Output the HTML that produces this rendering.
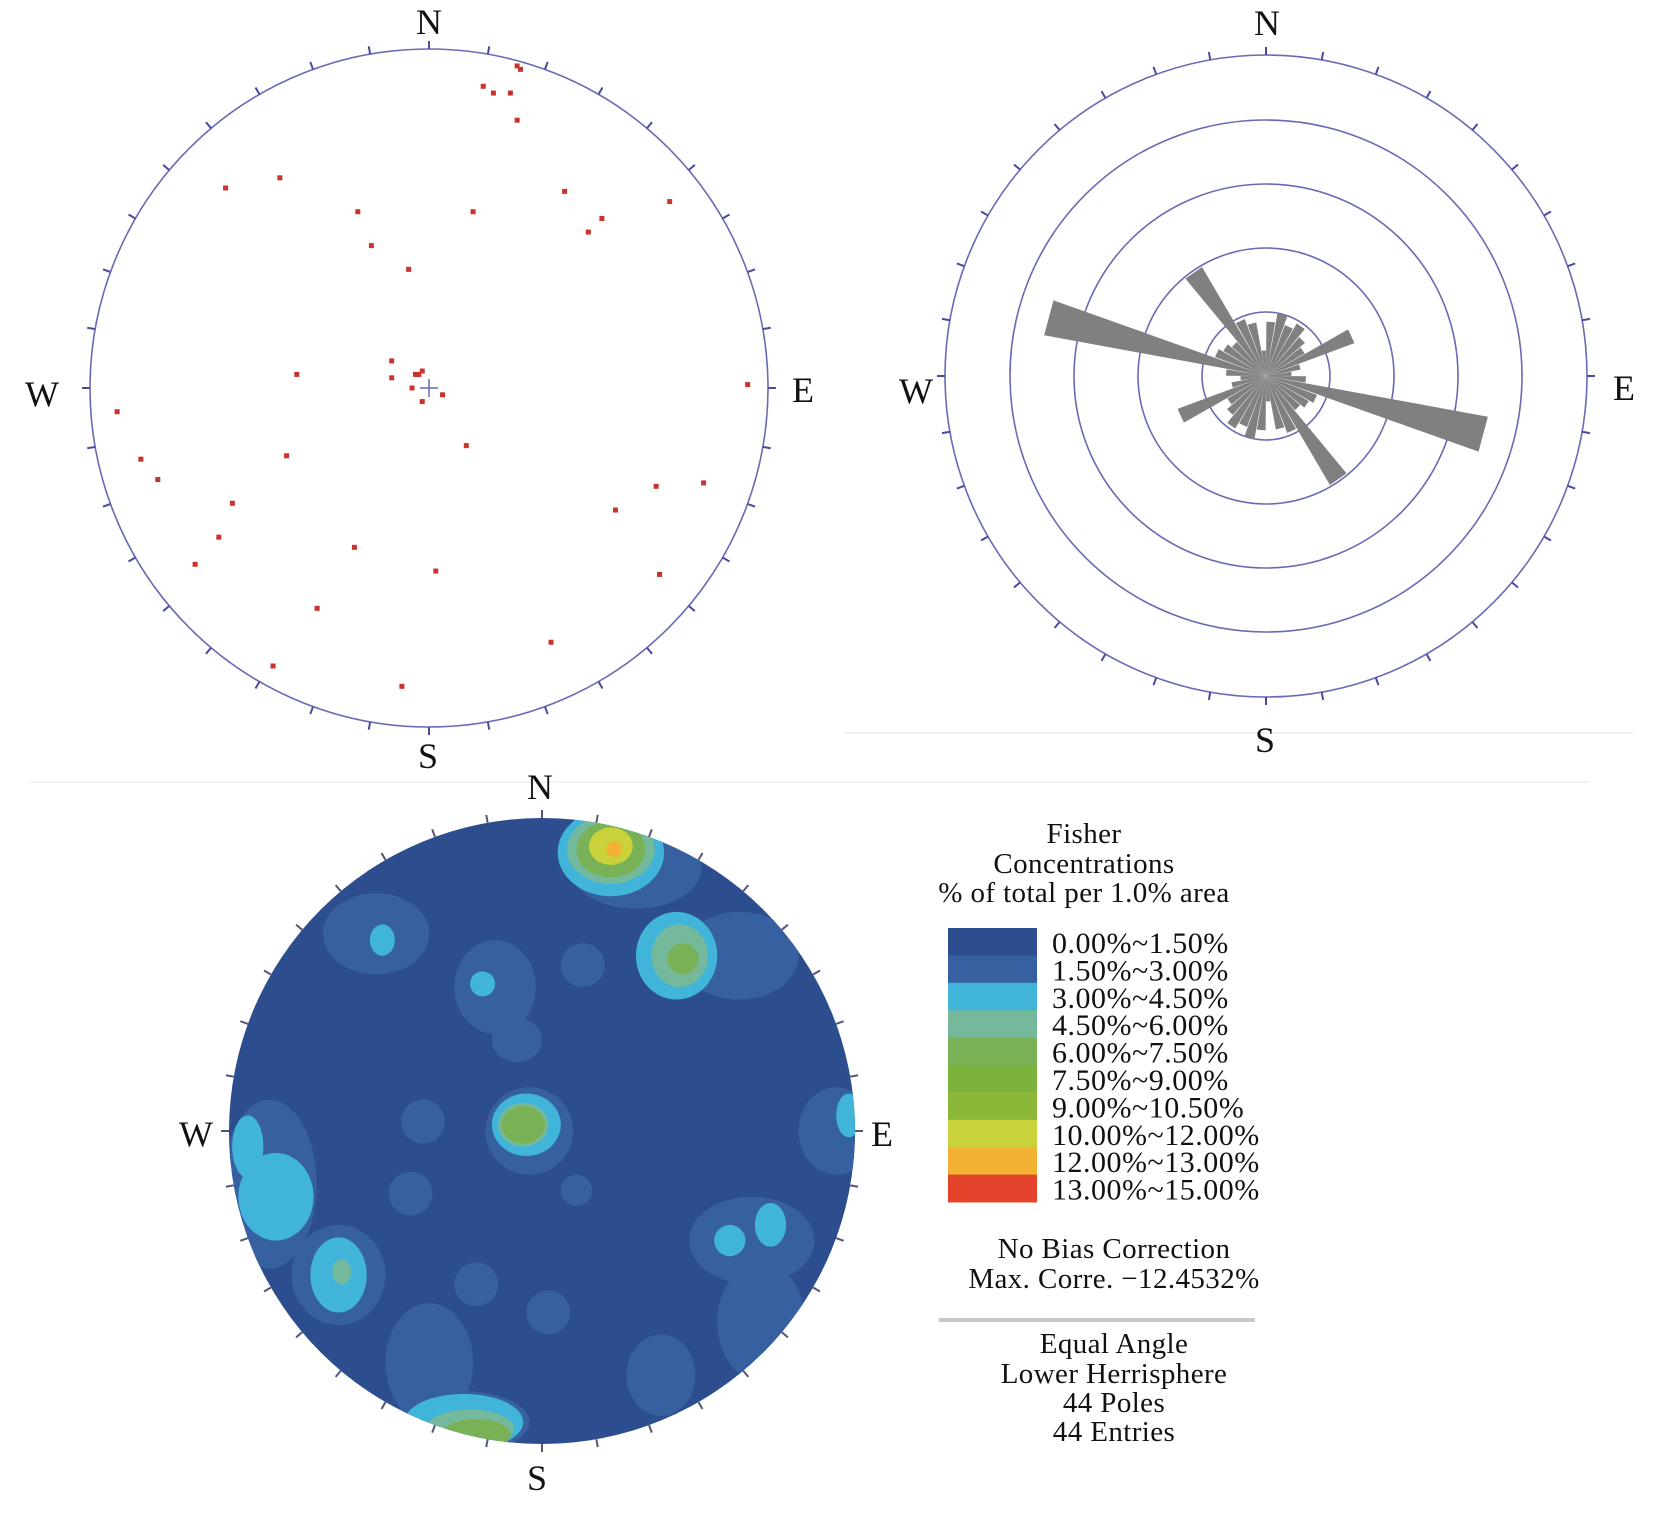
<!DOCTYPE html>
<html><head><meta charset="utf-8">
<style>
html,body{margin:0;padding:0;background:#fff;}
svg{display:block;}
text{font-family:"Liberation Serif",serif;fill:#111;}
</style></head>
<body>
<svg id="fig" width="1654" height="1515" viewBox="0 0 1654 1515" xmlns="http://www.w3.org/2000/svg">
<line x1="845" y1="733" x2="1633" y2="733" stroke="#f0f0f0" stroke-width="2"/>
<line x1="30" y1="782" x2="1590" y2="782" stroke="#f3f3f3" stroke-width="2"/>
<g id="p1"></g>
<g id="p2"></g>
<g id="p3"></g>
<g id="leg"></g>
</svg>
<script>
// ---- data ----
const poleX = [0.26,0.27,0.16,0.19,0.24,0.26,-0.60,-0.44,-0.21,0.13,0.40,0.51,0.47,0.71,-0.17,-0.06,-0.11,-0.39,-0.11,-0.04,-0.02,-0.05,-0.02,0.04,0.94,-0.92,0.11,-0.42,-0.85,-0.80,-0.58,0.67,0.81,0.55,-0.62,-0.69,-0.22,0.02,0.68,-0.33,0.36,-0.46,-0.08,-0.03];
const poleY = [0.95,0.94,0.89,0.87,0.87,0.79,0.59,0.62,0.52,0.52,0.58,0.50,0.46,0.55,0.42,0.35,0.08,0.04,0.03,0.04,0.05,0.00,-0.04,-0.02,0.01,-0.07,-0.17,-0.20,-0.21,-0.27,-0.34,-0.29,-0.28,-0.36,-0.44,-0.52,-0.47,-0.54,-0.55,-0.65,-0.75,-0.82,-0.88,0.04];
const roseBins = [5,15,25,35,45,55,65,75,85,95,105,115,125,135,145,155,165,175];
const roseVals = [1.7,2.0,1.7,1.9,1.6,1.4,2.95,1.1,0.8,1.25,7.05,1.7,1.55,1.4,3.95,1.9,1.7,0.8];
const ringVals = [2,4,6,8];
const levelColors = ["#2d4e8e","#36609f","#40b5d9","#74b99c","#79b256","#7db23c","#8cb83a","#c9d13b","#f3b234","#e3442b"];
const legendLabels = ["0.00%~1.50%","1.50%~3.00%","3.00%~4.50%","4.50%~6.00%","6.00%~7.50%","7.50%~9.00%","9.00%~10.50%","10.00%~12.00%","12.00%~13.00%","13.00%~15.00%"];
// contour blobs: level, x, y, rx, ry (normalized stereonet units)
const blobLevel = [1,1,1,1,1,1,1,1,1,1,1,1,1,1,1,1,1,1,1,1, 2,2,2,2,2,2,2,2,2,2,2,2, 3,3,3,3,3, 4,4,4,4, 7, 8];
const blobX = [0.30,0.63,-0.53,-0.15,-0.08,0.13,-0.38,-0.04,0.11,-0.42,-0.87,-0.65,-0.21,0.02,0.94,0.67,0.70,0.38,-0.36,-0.26, 0.22,0.43,-0.51,-0.19,-0.05,-0.85,-0.94,-0.65,0.98,0.73,0.60,-0.25, 0.22,0.44,-0.06,-0.64,-0.23, 0.22,0.45,-0.06,-0.21, 0.22, 0.23];
const blobY = [0.84,0.56,0.63,0.46,0.29,0.53,0.03,0,-0.19,-0.20,-0.17,-0.46,-0.49,-0.58,0,-0.35,-0.61,-0.78,-0.74,-0.93, 0.89,0.56,0.61,0.47,0.02,-0.21,-0.05,-0.46,0.05,-0.30,-0.35,-0.93, 0.90,0.56,0.02,-0.45,-0.95, 0.90,0.55,0.02,-0.97, 0.91, 0.90];
const blobRX = [0.21,0.19,0.17,0.13,0.08,0.07,0.07,0.14,0.05,0.07,0.15,0.15,0.07,0.07,0.12,0.20,0.14,0.11,0.14,0.22, 0.17,0.13,0.04,0.04,0.11,0.12,0.05,0.09,0.04,0.05,0.05,0.19, 0.14,0.09,0.08,0.03,0.14, 0.11,0.05,0.07,0.11, 0.07, 0.025];
const blobRY = [0.13,0.14,0.13,0.15,0.07,0.07,0.07,0.14,0.05,0.07,0.27,0.16,0.07,0.07,0.14,0.14,0.19,0.13,0.19,0.10, 0.14,0.14,0.05,0.04,0.10,0.14,0.10,0.12,0.07,0.07,0.05,0.09, 0.11,0.10,0.07,0.04,0.06, 0.09,0.05,0.06,0.05, 0.06, 0.025];

const NS="http://www.w3.org/2000/svg";
function mk(tag,attrs,parent){const e=document.createElementNS(NS,tag);for(const k in attrs)e.setAttribute(k,attrs[k]);parent.appendChild(e);return e;}
function ticks(g,cx,cy,r,len,color){
  for(let a=0;a<360;a+=10){const t=a*Math.PI/180;
    const l=mk('line',{x1:cx+r*Math.sin(t),y1:cy-r*Math.cos(t),x2:cx+(r+len)*Math.sin(t),y2:cy-(r+len)*Math.cos(t),stroke:color,'stroke-width':2},g);
    
    }
}
function label(g,txt,x,y,size,name){const t=mk('text',{x:x,y:y,'font-size':size,'text-anchor':'middle'},g);t.textContent=txt;
  
  return t;}
function compass(g,n,w,e,s){label(g,'N',n[0],n[1],36,'north-label');label(g,'W',w[0],w[1],36,'west-label');label(g,'E',e[0],e[1],36,'east-label');label(g,'S',s[0],s[1],36,'south-label');}

// ---- plot 1: poles ----
(function(){const g=document.getElementById('p1');const cx=429,cy=388,R=339;
  const sx=v=>cx+v*R, sy=v=>cy-v*R;
  const c=mk('circle',{cx:cx,cy:cy,r:R,fill:'none',stroke:'#6a6ab4','stroke-width':1.6},g);
  
  
  ticks(g,cx,cy,R,8,'#4a4aa0');
  mk('line',{x1:cx-9,y1:cy,x2:cx+9,y2:cy,stroke:'#6a6ab4','stroke-width':1.5},g);
  mk('line',{x1:cx,y1:cy-9,x2:cx,y2:cy+9,stroke:'#6a6ab4','stroke-width':1.5},g);
  for(let i=0;i<poleX.length;i++){const p=mk('rect',{x:sx(poleX[i])-2.5,y:sy(poleY[i])-2.5,width:5,height:5,fill:'#c8342c'},g);
    
    }
  compass(g,[429,34],[42,406],[803,402],[428,768]);
})();

// ---- plot 2: rose ----
(function(){const g=document.getElementById('p2');const cx=1266,cy=376,R=321,unit=32;
  ringVals.forEach(v=>{const c=mk('circle',{cx:cx,cy:cy,r:v*unit,fill:'none',stroke:'#6a6ab4','stroke-width':1.6},g);
    
    });
  const o=mk('circle',{cx:cx,cy:cy,r:R,fill:'none',stroke:'#6a6ab4','stroke-width':1.6},g);
  
  
  ticks(g,cx,cy,R,8,'#4a4aa0');
  for(let k=0;k<2;k++)for(let i=0;i<roseBins.length;i++){
    const az=roseBins[i]+180*k, L=roseVals[i]*unit;
    const a1=(az-4.6)*Math.PI/180,a2=(az+4.6)*Math.PI/180;
    const d=`M${cx},${cy} L${cx+L*Math.sin(a1)},${cy-L*Math.cos(a1)} L${cx+L*Math.sin(a2)},${cy-L*Math.cos(a2)} Z`;
    const p=mk('path',{d:d,fill:'#808080'},g);
    
    }
  compass(g,[1267,35],[916,403],[1624,400],[1265,752]);
})();

// ---- plot 3: contours ----
(function(){const g=document.getElementById('p3');const cx=542,cy=1131,R=313;
  const defs=mk('defs',{},g);const cp=mk('clipPath',{id:'cc'},defs);mk('circle',{cx:cx,cy:cy,r:R},cp);
  const bg=mk('circle',{cx:cx,cy:cy,r:R,fill:levelColors[0]},g);
  
  
  const cg=mk('g',{'clip-path':'url(#cc)'},g);
  for(let i=0;i<blobLevel.length;i++){const e=mk('ellipse',{cx:cx+blobX[i]*R,cy:cy-blobY[i]*R,rx:blobRX[i]*R,ry:blobRY[i]*R,fill:levelColors[blobLevel[i]]},cg);
    
    }
  ticks(g,cx,cy,R,8,'#555577');
  compass(g,[540,799],[196,1146],[882,1146],[537,1490]);
})();

// ---- legend ----
(function(){const g=document.getElementById('leg');
  function lt(txt,y,name){const t=label(g,txt,1084,y,29,name);t.setAttribute('letter-spacing','0.4');return t;}
  lt('Fisher',843,'legend-title');
  lt('Concentrations',873,'legend-title-2');
  lt('% of total per 1.0% area',902,'legend-title-3');
  const y0=928,h=27.4;
  for(let i=0;i<levelColors.length;i++){
    const r=mk('rect',{x:948,y:y0+i*h,width:89,height:h+0.5,fill:levelColors[i]},g);
    
    
    const t=mk('text',{x:1052,y:y0+i*h+25,'font-size':30,'letter-spacing':'0.5'},g);t.textContent=legendLabels[i];
    
    }
  function lb(txt,y,name){const t=label(g,txt,1114,y,29,name);t.setAttribute('letter-spacing','0.4');return t;}
  lb('No Bias Correction',1258,'bias-note');
  lb('Max. Corre. \u221212.4532%',1288,'max-correction-note');
  const l=mk('line',{x1:939,y1:1320,x2:1255,y2:1320,stroke:'#c8c8c8','stroke-width':4},g);
  
  
  lb('Equal Angle',1353,'projection-note');
  lb('Lower Herrisphere',1383,'hemisphere-note');
  lb('44 Poles',1412,'poles-count');
  lb('44 Entries',1441,'entries-count');
})();
</script>
</body></html>
